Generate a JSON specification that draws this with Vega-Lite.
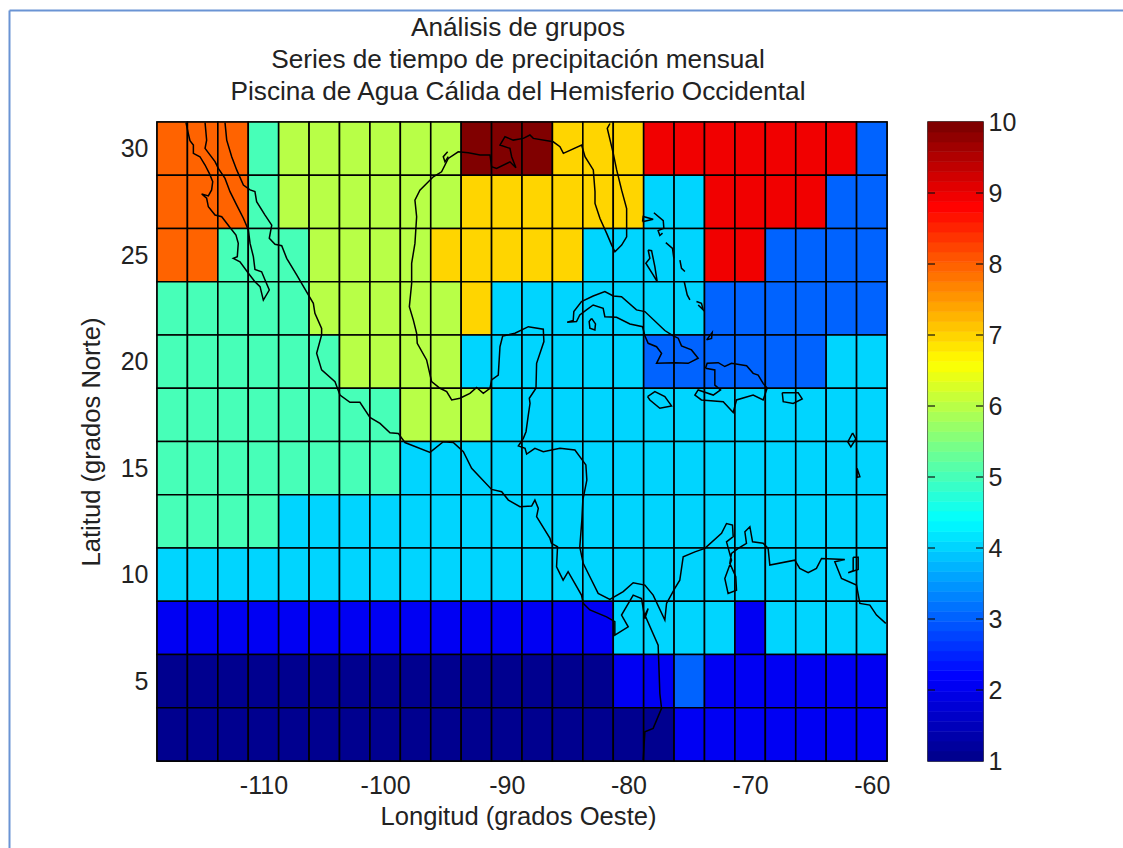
{"$schema":"https://vega.github.io/schema/vega-lite/v6.json","background":"white","padding":{"left":7,"top":8,"right":0,"bottom":0},"bounds":"flush","spacing":41,
"config":{"font":"Liberation Sans","view":{"stroke":"#111","strokeWidth":1.5},"axis":{"labelFont":"Liberation Sans","titleFont":"Liberation Sans","labelColor":"#222","titleColor":"#222","domainColor":"#111","tickColor":"#111","grid":false},"title":{"font":"Liberation Sans","color":"#222"}},
"datasets":{
"celdas":[
{"lon":-117.5,"lat":30,"v":8},{"lon":-115,"lat":30,"v":8},{"lon":-112.5,"lat":30,"v":8},{"lon":-110,"lat":30,"v":5},{"lon":-107.5,"lat":30,"v":6},{"lon":-105,"lat":30,"v":6},{"lon":-102.5,"lat":30,"v":6},{"lon":-100,"lat":30,"v":6},{"lon":-97.5,"lat":30,"v":6},{"lon":-95,"lat":30,"v":6},{"lon":-92.5,"lat":30,"v":10},{"lon":-90,"lat":30,"v":10},{"lon":-87.5,"lat":30,"v":10},{"lon":-85,"lat":30,"v":7},{"lon":-82.5,"lat":30,"v":7},{"lon":-80,"lat":30,"v":7},{"lon":-77.5,"lat":30,"v":9},{"lon":-75,"lat":30,"v":9},{"lon":-72.5,"lat":30,"v":9},{"lon":-70,"lat":30,"v":9},{"lon":-67.5,"lat":30,"v":9},{"lon":-65,"lat":30,"v":9},{"lon":-62.5,"lat":30,"v":9},{"lon":-60,"lat":30,"v":3},
{"lon":-117.5,"lat":27.5,"v":8},{"lon":-115,"lat":27.5,"v":8},{"lon":-112.5,"lat":27.5,"v":8},{"lon":-110,"lat":27.5,"v":5},{"lon":-107.5,"lat":27.5,"v":6},{"lon":-105,"lat":27.5,"v":6},{"lon":-102.5,"lat":27.5,"v":6},{"lon":-100,"lat":27.5,"v":6},{"lon":-97.5,"lat":27.5,"v":6},{"lon":-95,"lat":27.5,"v":6},{"lon":-92.5,"lat":27.5,"v":7},{"lon":-90,"lat":27.5,"v":7},{"lon":-87.5,"lat":27.5,"v":7},{"lon":-85,"lat":27.5,"v":7},{"lon":-82.5,"lat":27.5,"v":7},{"lon":-80,"lat":27.5,"v":7},{"lon":-77.5,"lat":27.5,"v":4},{"lon":-75,"lat":27.5,"v":4},{"lon":-72.5,"lat":27.5,"v":9},{"lon":-70,"lat":27.5,"v":9},{"lon":-67.5,"lat":27.5,"v":9},{"lon":-65,"lat":27.5,"v":9},{"lon":-62.5,"lat":27.5,"v":3},{"lon":-60,"lat":27.5,"v":3},
{"lon":-117.5,"lat":25,"v":8},{"lon":-115,"lat":25,"v":8},{"lon":-112.5,"lat":25,"v":5},{"lon":-110,"lat":25,"v":5},{"lon":-107.5,"lat":25,"v":5},{"lon":-105,"lat":25,"v":6},{"lon":-102.5,"lat":25,"v":6},{"lon":-100,"lat":25,"v":6},{"lon":-97.5,"lat":25,"v":6},{"lon":-95,"lat":25,"v":7},{"lon":-92.5,"lat":25,"v":7},{"lon":-90,"lat":25,"v":7},{"lon":-87.5,"lat":25,"v":7},{"lon":-85,"lat":25,"v":7},{"lon":-82.5,"lat":25,"v":4},{"lon":-80,"lat":25,"v":4},{"lon":-77.5,"lat":25,"v":4},{"lon":-75,"lat":25,"v":4},{"lon":-72.5,"lat":25,"v":9},{"lon":-70,"lat":25,"v":9},{"lon":-67.5,"lat":25,"v":3},{"lon":-65,"lat":25,"v":3},{"lon":-62.5,"lat":25,"v":3},{"lon":-60,"lat":25,"v":3},
{"lon":-117.5,"lat":22.5,"v":5},{"lon":-115,"lat":22.5,"v":5},{"lon":-112.5,"lat":22.5,"v":5},{"lon":-110,"lat":22.5,"v":5},{"lon":-107.5,"lat":22.5,"v":5},{"lon":-105,"lat":22.5,"v":6},{"lon":-102.5,"lat":22.5,"v":6},{"lon":-100,"lat":22.5,"v":6},{"lon":-97.5,"lat":22.5,"v":6},{"lon":-95,"lat":22.5,"v":6},{"lon":-92.5,"lat":22.5,"v":7},{"lon":-90,"lat":22.5,"v":4},{"lon":-87.5,"lat":22.5,"v":4},{"lon":-85,"lat":22.5,"v":4},{"lon":-82.5,"lat":22.5,"v":4},{"lon":-80,"lat":22.5,"v":4},{"lon":-77.5,"lat":22.5,"v":4},{"lon":-75,"lat":22.5,"v":4},{"lon":-72.5,"lat":22.5,"v":3},{"lon":-70,"lat":22.5,"v":3},{"lon":-67.5,"lat":22.5,"v":3},{"lon":-65,"lat":22.5,"v":3},{"lon":-62.5,"lat":22.5,"v":3},{"lon":-60,"lat":22.5,"v":3},
{"lon":-117.5,"lat":20,"v":5},{"lon":-115,"lat":20,"v":5},{"lon":-112.5,"lat":20,"v":5},{"lon":-110,"lat":20,"v":5},{"lon":-107.5,"lat":20,"v":5},{"lon":-105,"lat":20,"v":5},{"lon":-102.5,"lat":20,"v":6},{"lon":-100,"lat":20,"v":6},{"lon":-97.5,"lat":20,"v":6},{"lon":-95,"lat":20,"v":6},{"lon":-92.5,"lat":20,"v":4},{"lon":-90,"lat":20,"v":4},{"lon":-87.5,"lat":20,"v":4},{"lon":-85,"lat":20,"v":4},{"lon":-82.5,"lat":20,"v":4},{"lon":-80,"lat":20,"v":4},{"lon":-77.5,"lat":20,"v":3},{"lon":-75,"lat":20,"v":3},{"lon":-72.5,"lat":20,"v":3},{"lon":-70,"lat":20,"v":3},{"lon":-67.5,"lat":20,"v":3},{"lon":-65,"lat":20,"v":3},{"lon":-62.5,"lat":20,"v":4},{"lon":-60,"lat":20,"v":4},
{"lon":-117.5,"lat":17.5,"v":5},{"lon":-115,"lat":17.5,"v":5},{"lon":-112.5,"lat":17.5,"v":5},{"lon":-110,"lat":17.5,"v":5},{"lon":-107.5,"lat":17.5,"v":5},{"lon":-105,"lat":17.5,"v":5},{"lon":-102.5,"lat":17.5,"v":5},{"lon":-100,"lat":17.5,"v":5},{"lon":-97.5,"lat":17.5,"v":6},{"lon":-95,"lat":17.5,"v":6},{"lon":-92.5,"lat":17.5,"v":6},{"lon":-90,"lat":17.5,"v":4},{"lon":-87.5,"lat":17.5,"v":4},{"lon":-85,"lat":17.5,"v":4},{"lon":-82.5,"lat":17.5,"v":4},{"lon":-80,"lat":17.5,"v":4},{"lon":-77.5,"lat":17.5,"v":4},{"lon":-75,"lat":17.5,"v":4},{"lon":-72.5,"lat":17.5,"v":4},{"lon":-70,"lat":17.5,"v":4},{"lon":-67.5,"lat":17.5,"v":4},{"lon":-65,"lat":17.5,"v":4},{"lon":-62.5,"lat":17.5,"v":4},{"lon":-60,"lat":17.5,"v":4},
{"lon":-117.5,"lat":15,"v":5},{"lon":-115,"lat":15,"v":5},{"lon":-112.5,"lat":15,"v":5},{"lon":-110,"lat":15,"v":5},{"lon":-107.5,"lat":15,"v":5},{"lon":-105,"lat":15,"v":5},{"lon":-102.5,"lat":15,"v":5},{"lon":-100,"lat":15,"v":5},{"lon":-97.5,"lat":15,"v":4},{"lon":-95,"lat":15,"v":4},{"lon":-92.5,"lat":15,"v":4},{"lon":-90,"lat":15,"v":4},{"lon":-87.5,"lat":15,"v":4},{"lon":-85,"lat":15,"v":4},{"lon":-82.5,"lat":15,"v":4},{"lon":-80,"lat":15,"v":4},{"lon":-77.5,"lat":15,"v":4},{"lon":-75,"lat":15,"v":4},{"lon":-72.5,"lat":15,"v":4},{"lon":-70,"lat":15,"v":4},{"lon":-67.5,"lat":15,"v":4},{"lon":-65,"lat":15,"v":4},{"lon":-62.5,"lat":15,"v":4},{"lon":-60,"lat":15,"v":4},
{"lon":-117.5,"lat":12.5,"v":5},{"lon":-115,"lat":12.5,"v":5},{"lon":-112.5,"lat":12.5,"v":5},{"lon":-110,"lat":12.5,"v":5},{"lon":-107.5,"lat":12.5,"v":4},{"lon":-105,"lat":12.5,"v":4},{"lon":-102.5,"lat":12.5,"v":4},{"lon":-100,"lat":12.5,"v":4},{"lon":-97.5,"lat":12.5,"v":4},{"lon":-95,"lat":12.5,"v":4},{"lon":-92.5,"lat":12.5,"v":4},{"lon":-90,"lat":12.5,"v":4},{"lon":-87.5,"lat":12.5,"v":4},{"lon":-85,"lat":12.5,"v":4},{"lon":-82.5,"lat":12.5,"v":4},{"lon":-80,"lat":12.5,"v":4},{"lon":-77.5,"lat":12.5,"v":4},{"lon":-75,"lat":12.5,"v":4},{"lon":-72.5,"lat":12.5,"v":4},{"lon":-70,"lat":12.5,"v":4},{"lon":-67.5,"lat":12.5,"v":4},{"lon":-65,"lat":12.5,"v":4},{"lon":-62.5,"lat":12.5,"v":4},{"lon":-60,"lat":12.5,"v":4},
{"lon":-117.5,"lat":10,"v":4},{"lon":-115,"lat":10,"v":4},{"lon":-112.5,"lat":10,"v":4},{"lon":-110,"lat":10,"v":4},{"lon":-107.5,"lat":10,"v":4},{"lon":-105,"lat":10,"v":4},{"lon":-102.5,"lat":10,"v":4},{"lon":-100,"lat":10,"v":4},{"lon":-97.5,"lat":10,"v":4},{"lon":-95,"lat":10,"v":4},{"lon":-92.5,"lat":10,"v":4},{"lon":-90,"lat":10,"v":4},{"lon":-87.5,"lat":10,"v":4},{"lon":-85,"lat":10,"v":4},{"lon":-82.5,"lat":10,"v":4},{"lon":-80,"lat":10,"v":4},{"lon":-77.5,"lat":10,"v":4},{"lon":-75,"lat":10,"v":4},{"lon":-72.5,"lat":10,"v":4},{"lon":-70,"lat":10,"v":4},{"lon":-67.5,"lat":10,"v":4},{"lon":-65,"lat":10,"v":4},{"lon":-62.5,"lat":10,"v":4},{"lon":-60,"lat":10,"v":4},
{"lon":-117.5,"lat":7.5,"v":2},{"lon":-115,"lat":7.5,"v":2},{"lon":-112.5,"lat":7.5,"v":2},{"lon":-110,"lat":7.5,"v":2},{"lon":-107.5,"lat":7.5,"v":2},{"lon":-105,"lat":7.5,"v":2},{"lon":-102.5,"lat":7.5,"v":2},{"lon":-100,"lat":7.5,"v":2},{"lon":-97.5,"lat":7.5,"v":2},{"lon":-95,"lat":7.5,"v":2},{"lon":-92.5,"lat":7.5,"v":2},{"lon":-90,"lat":7.5,"v":2},{"lon":-87.5,"lat":7.5,"v":2},{"lon":-85,"lat":7.5,"v":2},{"lon":-82.5,"lat":7.5,"v":2},{"lon":-80,"lat":7.5,"v":4},{"lon":-77.5,"lat":7.5,"v":4},{"lon":-75,"lat":7.5,"v":4},{"lon":-72.5,"lat":7.5,"v":4},{"lon":-70,"lat":7.5,"v":2},{"lon":-67.5,"lat":7.5,"v":4},{"lon":-65,"lat":7.5,"v":4},{"lon":-62.5,"lat":7.5,"v":4},{"lon":-60,"lat":7.5,"v":4},
{"lon":-117.5,"lat":5,"v":1},{"lon":-115,"lat":5,"v":1},{"lon":-112.5,"lat":5,"v":1},{"lon":-110,"lat":5,"v":1},{"lon":-107.5,"lat":5,"v":1},{"lon":-105,"lat":5,"v":1},{"lon":-102.5,"lat":5,"v":1},{"lon":-100,"lat":5,"v":1},{"lon":-97.5,"lat":5,"v":1},{"lon":-95,"lat":5,"v":1},{"lon":-92.5,"lat":5,"v":1},{"lon":-90,"lat":5,"v":1},{"lon":-87.5,"lat":5,"v":1},{"lon":-85,"lat":5,"v":1},{"lon":-82.5,"lat":5,"v":1},{"lon":-80,"lat":5,"v":2},{"lon":-77.5,"lat":5,"v":2},{"lon":-75,"lat":5,"v":3},{"lon":-72.5,"lat":5,"v":2},{"lon":-70,"lat":5,"v":2},{"lon":-67.5,"lat":5,"v":2},{"lon":-65,"lat":5,"v":2},{"lon":-62.5,"lat":5,"v":2},{"lon":-60,"lat":5,"v":2},
{"lon":-117.5,"lat":2.5,"v":1},{"lon":-115,"lat":2.5,"v":1},{"lon":-112.5,"lat":2.5,"v":1},{"lon":-110,"lat":2.5,"v":1},{"lon":-107.5,"lat":2.5,"v":1},{"lon":-105,"lat":2.5,"v":1},{"lon":-102.5,"lat":2.5,"v":1},{"lon":-100,"lat":2.5,"v":1},{"lon":-97.5,"lat":2.5,"v":1},{"lon":-95,"lat":2.5,"v":1},{"lon":-92.5,"lat":2.5,"v":1},{"lon":-90,"lat":2.5,"v":1},{"lon":-87.5,"lat":2.5,"v":1},{"lon":-85,"lat":2.5,"v":1},{"lon":-82.5,"lat":2.5,"v":1},{"lon":-80,"lat":2.5,"v":1},{"lon":-77.5,"lat":2.5,"v":1},{"lon":-75,"lat":2.5,"v":2},{"lon":-72.5,"lat":2.5,"v":2},{"lon":-70,"lat":2.5,"v":2},{"lon":-67.5,"lat":2.5,"v":2},{"lon":-65,"lat":2.5,"v":2},{"lon":-62.5,"lat":2.5,"v":2},{"lon":-60,"lat":2.5,"v":2}
],
"costa":[
{"p":1,"o":1,"lon":-116.37,"lat":31.22},{"p":1,"o":2,"lon":-116.18,"lat":30.72},{"p":1,"o":3,"lon":-116.04,"lat":30.37},{"p":1,"o":4,"lon":-115.76,"lat":30.17},{"p":1,"o":5,"lon":-115.76,"lat":29.78},{"p":1,"o":6,"lon":-115.22,"lat":29.62},{"p":1,"o":7,"lon":-114.8,"lat":29.23},{"p":1,"o":8,"lon":-114.45,"lat":28.84},{"p":1,"o":9,"lon":-114.17,"lat":28.45},{"p":1,"o":10,"lon":-114.26,"lat":28.06},{"p":1,"o":11,"lon":-114.53,"lat":27.78},{"p":1,"o":12,"lon":-115.08,"lat":27.87},{"p":1,"o":13,"lon":-114.67,"lat":27.67},{"p":1,"o":14,"lon":-114.53,"lat":27.27},{"p":1,"o":15,"lon":-113.98,"lat":26.88},{"p":1,"o":16,"lon":-113.43,"lat":26.8},{"p":1,"o":17,"lon":-112.75,"lat":26.3},{"p":1,"o":18,"lon":-112.26,"lat":25.94},{"p":1,"o":19,"lon":-112.07,"lat":25.55},{"p":1,"o":20,"lon":-112.15,"lat":24.93},{"p":1,"o":21,"lon":-112.48,"lat":24.85},{"p":1,"o":22,"lon":-111.93,"lat":24.69},{"p":1,"o":23,"lon":-111.24,"lat":24.15},{"p":1,"o":24,"lon":-110.7,"lat":23.75},{"p":1,"o":25,"lon":-110.28,"lat":23.52},{"p":1,"o":26,"lon":-110.01,"lat":22.89},{"p":1,"o":27,"lon":-109.52,"lat":23.36},{"p":1,"o":28,"lon":-109.87,"lat":23.83},{"p":1,"o":29,"lon":-110.15,"lat":24.22},{"p":1,"o":30,"lon":-110.7,"lat":24.33},{"p":1,"o":31,"lon":-110.83,"lat":24.93},{"p":1,"o":32,"lon":-111.1,"lat":25.55},{"p":1,"o":33,"lon":-111.24,"lat":26.18},{"p":1,"o":34,"lon":-111.65,"lat":26.73},{"p":1,"o":35,"lon":-112.2,"lat":27.35},{"p":1,"o":36,"lon":-112.75,"lat":27.98},{"p":1,"o":37,"lon":-113.16,"lat":28.6},{"p":1,"o":38,"lon":-113.71,"lat":29.07},{"p":1,"o":39,"lon":-113.98,"lat":29.39},{"p":1,"o":40,"lon":-114.8,"lat":30.01},{"p":1,"o":41,"lon":-114.67,"lat":30.4},{"p":1,"o":42,"lon":-114.8,"lat":31.22},
{"p":2,"o":1,"lon":-113.16,"lat":31.22},{"p":2,"o":2,"lon":-113.02,"lat":30.4},{"p":2,"o":3,"lon":-112.61,"lat":29.62},{"p":2,"o":4,"lon":-112.2,"lat":29},{"p":2,"o":5,"lon":-111.65,"lat":28.29},{"p":2,"o":6,"lon":-111.1,"lat":28.06},{"p":2,"o":7,"lon":-110.7,"lat":27.98},{"p":2,"o":8,"lon":-110.56,"lat":27.51},{"p":2,"o":9,"lon":-109.87,"lat":26.88},{"p":2,"o":10,"lon":-109.32,"lat":26.41},{"p":2,"o":11,"lon":-109.52,"lat":25.79},{"p":2,"o":12,"lon":-109.05,"lat":25.51},{"p":2,"o":13,"lon":-108.5,"lat":25.44},{"p":2,"o":14,"lon":-108.09,"lat":24.85},{"p":2,"o":15,"lon":-107.27,"lat":24.07},{"p":2,"o":16,"lon":-106.31,"lat":23.13},{"p":2,"o":17,"lon":-105.9,"lat":22.74},{"p":2,"o":18,"lon":-105.77,"lat":22.27},{"p":2,"o":19,"lon":-105.22,"lat":21.56},{"p":2,"o":20,"lon":-105.22,"lat":21.25},{"p":2,"o":21,"lon":-105.63,"lat":20.39},{"p":2,"o":22,"lon":-105.22,"lat":19.61},{"p":2,"o":23,"lon":-104.12,"lat":19.06},{"p":2,"o":24,"lon":-103.71,"lat":18.43},{"p":2,"o":25,"lon":-102.89,"lat":18.09},{"p":2,"o":26,"lon":-102.07,"lat":18.09},{"p":2,"o":27,"lon":-101.25,"lat":17.38},{"p":2,"o":28,"lon":-100.42,"lat":17.1},{"p":2,"o":29,"lon":-99.6,"lat":16.66},{"p":2,"o":30,"lon":-98.92,"lat":16.63},{"p":2,"o":31,"lon":-98.37,"lat":16.2},{"p":2,"o":32,"lon":-96.31,"lat":15.74},{"p":2,"o":33,"lon":-95.22,"lat":16.24},{"p":2,"o":34,"lon":-94.4,"lat":16.2},{"p":2,"o":35,"lon":-93.57,"lat":15.77},{"p":2,"o":36,"lon":-92.89,"lat":14.99},{"p":2,"o":37,"lon":-91.25,"lat":14},{"p":2,"o":38,"lon":-90.42,"lat":13.89},{"p":2,"o":39,"lon":-89.87,"lat":13.5},{"p":2,"o":40,"lon":-88.92,"lat":13.19},{"p":2,"o":41,"lon":-87.96,"lat":13.22},{"p":2,"o":42,"lon":-87.69,"lat":13.5},{"p":2,"o":43,"lon":-87.41,"lat":13.11},{"p":2,"o":44,"lon":-87.55,"lat":12.72},{"p":2,"o":45,"lon":-86.45,"lat":11.7},{"p":2,"o":46,"lon":-86.33,"lat":11.47},{"p":2,"o":47,"lon":-85.83,"lat":11.31},{"p":2,"o":48,"lon":-85.91,"lat":10.37},{"p":2,"o":49,"lon":-85.37,"lat":9.74},{"p":2,"o":50,"lon":-84.96,"lat":10.14},{"p":2,"o":51,"lon":-83.86,"lat":9.04},{"p":2,"o":52,"lon":-83.72,"lat":8.65},{"p":2,"o":53,"lon":-83.17,"lat":8.34},{"p":2,"o":54,"lon":-81.8,"lat":8.02},{"p":2,"o":55,"lon":-81.12,"lat":7.79},{"p":2,"o":56,"lon":-81.12,"lat":7.16},{"p":2,"o":57,"lon":-80.02,"lat":7.55},{"p":2,"o":58,"lon":-80.57,"lat":8.1},{"p":2,"o":59,"lon":-79.61,"lat":9.04},{"p":2,"o":60,"lon":-78.93,"lat":8.88},{"p":2,"o":61,"lon":-78.65,"lat":7.94},{"p":2,"o":62,"lon":-78.38,"lat":8.41},{"p":2,"o":63,"lon":-78.65,"lat":8.1},{"p":2,"o":64,"lon":-77.56,"lat":6.69},{"p":2,"o":65,"lon":-77.42,"lat":4.42},{"p":2,"o":66,"lon":-77.28,"lat":3.72},{"p":2,"o":67,"lon":-77.97,"lat":2.78},{"p":2,"o":68,"lon":-78.65,"lat":2.62},{"p":2,"o":69,"lon":-78.79,"lat":1.29},
{"p":3,"o":1,"lon":-81.52,"lat":31.18},{"p":3,"o":2,"lon":-81.74,"lat":30.95},{"p":3,"o":3,"lon":-81.25,"lat":29.78},{"p":3,"o":4,"lon":-80.97,"lat":29},{"p":3,"o":5,"lon":-80.56,"lat":28.05},{"p":3,"o":6,"lon":-80.15,"lat":27.19},{"p":3,"o":7,"lon":-80.15,"lat":25.86},{"p":3,"o":8,"lon":-80.56,"lat":25.47},{"p":3,"o":9,"lon":-81.11,"lat":25.16},{"p":3,"o":10,"lon":-81.38,"lat":25.47},{"p":3,"o":11,"lon":-81.79,"lat":26.02},{"p":3,"o":12,"lon":-82.34,"lat":26.72},{"p":3,"o":13,"lon":-82.75,"lat":27.43},{"p":3,"o":14,"lon":-82.75,"lat":27.98},{"p":3,"o":15,"lon":-82.89,"lat":29},{"p":3,"o":16,"lon":-83.57,"lat":29.62},{"p":3,"o":17,"lon":-83.85,"lat":30.17},{"p":3,"o":18,"lon":-85.35,"lat":29.78},{"p":3,"o":19,"lon":-85.63,"lat":30.09},{"p":3,"o":20,"lon":-86.18,"lat":30.32},{"p":3,"o":21,"lon":-87.82,"lat":30.48},{"p":3,"o":22,"lon":-88.1,"lat":30.64},{"p":3,"o":23,"lon":-88.64,"lat":30.48},{"p":3,"o":24,"lon":-89.47,"lat":30.4},{"p":3,"o":25,"lon":-90.15,"lat":30.56},{"p":3,"o":26,"lon":-90.56,"lat":30.17},{"p":3,"o":27,"lon":-89.74,"lat":30.01},{"p":3,"o":28,"lon":-89.6,"lat":29.62},{"p":3,"o":29,"lon":-89.25,"lat":29.1},{"p":3,"o":30,"lon":-89.74,"lat":29.38},{"p":3,"o":31,"lon":-90.84,"lat":29.07},{"p":3,"o":32,"lon":-91.25,"lat":29.15},{"p":3,"o":33,"lon":-91.38,"lat":29.7},{"p":3,"o":34,"lon":-92.2,"lat":29.7},{"p":3,"o":35,"lon":-93.16,"lat":29.81},{"p":3,"o":36,"lon":-93.99,"lat":29.85},{"p":3,"o":37,"lon":-94.81,"lat":29.54},{"p":3,"o":38,"lon":-95.36,"lat":28.91},{"p":3,"o":39,"lon":-96.04,"lat":28.68},{"p":3,"o":40,"lon":-97.14,"lat":28.05},{"p":3,"o":41,"lon":-97.55,"lat":27.58},{"p":3,"o":42,"lon":-97.41,"lat":26.8},{"p":3,"o":43,"lon":-97.55,"lat":25.55},{"p":3,"o":44,"lon":-97.82,"lat":24.61},{"p":3,"o":45,"lon":-97.82,"lat":23.67},{"p":3,"o":46,"lon":-98.01,"lat":22.58},{"p":3,"o":47,"lon":-97.68,"lat":21.95},{"p":3,"o":48,"lon":-97.41,"lat":21.33},{"p":3,"o":49,"lon":-97.36,"lat":20.86},{"p":3,"o":50,"lon":-96.59,"lat":20.08},{"p":3,"o":51,"lon":-96.18,"lat":19.06},{"p":3,"o":52,"lon":-95.49,"lat":18.75},{"p":3,"o":53,"lon":-94.94,"lat":18.59},{"p":3,"o":54,"lon":-94.53,"lat":18.2},{"p":3,"o":55,"lon":-93.85,"lat":18.28},{"p":3,"o":56,"lon":-93.03,"lat":18.51},{"p":3,"o":57,"lon":-92.48,"lat":18.79},{"p":3,"o":58,"lon":-91.93,"lat":18.51},{"p":3,"o":59,"lon":-91.38,"lat":18.75},{"p":3,"o":60,"lon":-91.25,"lat":19.14},{"p":3,"o":61,"lon":-90.7,"lat":19.37},{"p":3,"o":62,"lon":-90.56,"lat":20.7},{"p":3,"o":63,"lon":-90.34,"lat":21.2},{"p":3,"o":64,"lon":-89.33,"lat":21.33},{"p":3,"o":65,"lon":-88.23,"lat":21.64},{"p":3,"o":66,"lon":-87,"lat":21.52},{"p":3,"o":67,"lon":-86.95,"lat":20.94},{"p":3,"o":68,"lon":-87.55,"lat":19.92},{"p":3,"o":69,"lon":-87.6,"lat":18.75},{"p":3,"o":70,"lon":-88.15,"lat":18.28},{"p":3,"o":71,"lon":-88.09,"lat":18.04},{"p":3,"o":72,"lon":-88.23,"lat":17.5},{"p":3,"o":73,"lon":-88.42,"lat":16.71},{"p":3,"o":74,"lon":-88.64,"lat":16.4},{"p":3,"o":75,"lon":-89.05,"lat":16.04},{"p":3,"o":76,"lon":-88.5,"lat":15.93},{"p":3,"o":77,"lon":-88.37,"lat":15.66},{"p":3,"o":78,"lon":-87.69,"lat":15.93},{"p":3,"o":79,"lon":-87,"lat":15.77},{"p":3,"o":80,"lon":-85.63,"lat":15.93},{"p":3,"o":81,"lon":-84.4,"lat":15.85},{"p":3,"o":82,"lon":-83.5,"lat":15.15},{"p":3,"o":83,"lon":-83.42,"lat":14.44},{"p":3,"o":84,"lon":-83.75,"lat":13.5},{"p":3,"o":85,"lon":-83.83,"lat":12.56},{"p":3,"o":86,"lon":-84,"lat":11.3},{"p":3,"o":87,"lon":-83.72,"lat":10.53},{"p":3,"o":88,"lon":-83.17,"lat":9.9},{"p":3,"o":89,"lon":-82.49,"lat":9.12},{"p":3,"o":90,"lon":-81.53,"lat":8.84},{"p":3,"o":91,"lon":-80.43,"lat":9.2},{"p":3,"o":92,"lon":-79.61,"lat":9.62},{"p":3,"o":93,"lon":-78.65,"lat":9.51},{"p":3,"o":94,"lon":-77.97,"lat":9.04},{"p":3,"o":95,"lon":-77.01,"lat":7.87},{"p":3,"o":96,"lon":-76.87,"lat":8.65},{"p":3,"o":97,"lon":-76.19,"lat":9.35},{"p":3,"o":98,"lon":-75.78,"lat":9.74},{"p":3,"o":99,"lon":-75.5,"lat":10.84},{"p":3,"o":100,"lon":-74.54,"lat":11.07},{"p":3,"o":101,"lon":-73.72,"lat":11.23},{"p":3,"o":102,"lon":-72.35,"lat":11.94},{"p":3,"o":103,"lon":-71.94,"lat":12.4},{"p":3,"o":104,"lon":-71.45,"lat":12.33},{"p":3,"o":105,"lon":-71.39,"lat":11.78},{"p":3,"o":106,"lon":-71.94,"lat":11.54},{"p":3,"o":107,"lon":-71.53,"lat":10.68},{"p":3,"o":108,"lon":-72.08,"lat":9.82},{"p":3,"o":109,"lon":-71.81,"lat":9.12},{"p":3,"o":110,"lon":-71.12,"lat":9.27},{"p":3,"o":111,"lon":-71.18,"lat":9.9},{"p":3,"o":112,"lon":-71.67,"lat":10.53},{"p":3,"o":113,"lon":-71.53,"lat":11},{"p":3,"o":114,"lon":-70.98,"lat":11.23},{"p":3,"o":115,"lon":-70.3,"lat":11.47},{"p":3,"o":116,"lon":-70.43,"lat":12.01},{"p":3,"o":117,"lon":-70.02,"lat":12.25},{"p":3,"o":118,"lon":-69.8,"lat":11.54},{"p":3,"o":119,"lon":-68.93,"lat":11.47},{"p":3,"o":120,"lon":-68.52,"lat":11.23},{"p":3,"o":121,"lon":-68.38,"lat":10.45},{"p":3,"o":122,"lon":-66.33,"lat":10.68},{"p":3,"o":123,"lon":-65.92,"lat":10.29},{"p":3,"o":124,"lon":-65.23,"lat":10.09},{"p":3,"o":125,"lon":-64.55,"lat":10.29},{"p":3,"o":126,"lon":-64.13,"lat":10.76},{"p":3,"o":127,"lon":-62.22,"lat":10.71},{"p":3,"o":128,"lon":-63.04,"lat":10.6},{"p":3,"o":129,"lon":-62.49,"lat":9.82},{"p":3,"o":130,"lon":-61.26,"lat":9.51},{"p":3,"o":131,"lon":-60.98,"lat":8.65},{"p":3,"o":132,"lon":-60.16,"lat":8.57},{"p":3,"o":133,"lon":-59.61,"lat":8.1},{"p":3,"o":134,"lon":-58.85,"lat":7.71},
{"p":4,"o":1,"lon":-61.53,"lat":10.81},{"p":4,"o":2,"lon":-61.12,"lat":10.81},{"p":4,"o":3,"lon":-61.12,"lat":10.24},{"p":4,"o":4,"lon":-61.94,"lat":10.09},{"p":4,"o":5,"lon":-61.53,"lat":10.18},{"p":4,"o":6,"lon":-61.53,"lat":10.81},
{"p":5,"o":1,"lon":-85.04,"lat":21.85},{"p":5,"o":2,"lon":-84.54,"lat":21.93},{"p":5,"o":3,"lon":-84.49,"lat":22.35},{"p":5,"o":4,"lon":-83.86,"lat":22.82},{"p":5,"o":5,"lon":-82.9,"lat":23.08},{"p":5,"o":6,"lon":-81.94,"lat":23.29},{"p":5,"o":7,"lon":-81.25,"lat":23.08},{"p":5,"o":8,"lon":-80.57,"lat":23.05},{"p":5,"o":9,"lon":-79.34,"lat":22.43},{"p":5,"o":10,"lon":-78.65,"lat":22.35},{"p":5,"o":11,"lon":-77.01,"lat":21.46},{"p":5,"o":12,"lon":-76.32,"lat":21.21},{"p":5,"o":13,"lon":-75.91,"lat":21.1},{"p":5,"o":14,"lon":-75.64,"lat":20.74},{"p":5,"o":15,"lon":-74.82,"lat":20.55},{"p":5,"o":16,"lon":-74.27,"lat":20.16},{"p":5,"o":17,"lon":-75.09,"lat":19.92},{"p":5,"o":18,"lon":-76.19,"lat":19.95},{"p":5,"o":19,"lon":-77.69,"lat":19.92},{"p":5,"o":20,"lon":-77.28,"lat":20.39},{"p":5,"o":21,"lon":-77.69,"lat":20.7},{"p":5,"o":22,"lon":-78.38,"lat":20.86},{"p":5,"o":23,"lon":-78.65,"lat":21.21},{"p":5,"o":24,"lon":-78.84,"lat":21.64},{"p":5,"o":25,"lon":-79.88,"lat":21.77},{"p":5,"o":26,"lon":-80.98,"lat":22.08},{"p":5,"o":27,"lon":-81.94,"lat":22.11},{"p":5,"o":28,"lon":-82.08,"lat":22.5},{"p":5,"o":29,"lon":-82.9,"lat":22.66},{"p":5,"o":30,"lon":-83.45,"lat":22.43},{"p":5,"o":31,"lon":-84,"lat":22.19},{"p":5,"o":32,"lon":-84.27,"lat":21.88},{"p":5,"o":33,"lon":-85.04,"lat":21.85},
{"p":6,"o":1,"lon":-83.03,"lat":22.03},{"p":6,"o":2,"lon":-82.71,"lat":21.77},{"p":6,"o":3,"lon":-82.76,"lat":21.49},{"p":6,"o":4,"lon":-83.17,"lat":21.57},{"p":6,"o":5,"lon":-83.23,"lat":21.88},{"p":6,"o":6,"lon":-83.03,"lat":22.03},
{"p":7,"o":1,"lon":-73.67,"lat":19.69},{"p":7,"o":2,"lon":-73.53,"lat":19.92},{"p":7,"o":3,"lon":-72.62,"lat":19.95},{"p":7,"o":4,"lon":-72.08,"lat":19.77},{"p":7,"o":5,"lon":-71.53,"lat":19.92},{"p":7,"o":6,"lon":-70.29,"lat":19.81},{"p":7,"o":7,"lon":-69.75,"lat":19.45},{"p":7,"o":8,"lon":-69.34,"lat":19.37},{"p":7,"o":9,"lon":-68.93,"lat":18.98},{"p":7,"o":10,"lon":-68.6,"lat":18.75},{"p":7,"o":11,"lon":-68.93,"lat":18.2},{"p":7,"o":12,"lon":-69.75,"lat":18.43},{"p":7,"o":13,"lon":-71.12,"lat":18.2},{"p":7,"o":14,"lon":-71.39,"lat":17.61},{"p":7,"o":15,"lon":-72.21,"lat":18.12},{"p":7,"o":16,"lon":-74,"lat":18.2},{"p":7,"o":17,"lon":-74.54,"lat":18.43},{"p":7,"o":18,"lon":-74.27,"lat":18.67},{"p":7,"o":19,"lon":-73.03,"lat":18.43},{"p":7,"o":20,"lon":-72.43,"lat":18.67},{"p":7,"o":21,"lon":-72.9,"lat":18.9},{"p":7,"o":22,"lon":-72.9,"lat":19.61},{"p":7,"o":23,"lon":-73.67,"lat":19.69},
{"p":8,"o":1,"lon":-78.43,"lat":18.36},{"p":8,"o":2,"lon":-77.83,"lat":18.59},{"p":8,"o":3,"lon":-77.01,"lat":18.36},{"p":8,"o":4,"lon":-76.46,"lat":17.92},{"p":8,"o":5,"lon":-77.42,"lat":17.81},{"p":8,"o":6,"lon":-78.24,"lat":18.2},{"p":8,"o":7,"lon":-78.43,"lat":18.36},
{"p":9,"o":1,"lon":-67.36,"lat":18.54},{"p":9,"o":2,"lon":-66.05,"lat":18.54},{"p":9,"o":3,"lon":-65.72,"lat":18.25},{"p":9,"o":4,"lon":-66.46,"lat":18.04},{"p":9,"o":5,"lon":-67.28,"lat":18.12},{"p":9,"o":6,"lon":-67.36,"lat":18.54},
{"p":10,"o":1,"lon":-78.84,"lat":26.57},{"p":10,"o":2,"lon":-77.97,"lat":26.68},{"p":10,"o":3,"lon":-78.79,"lat":26.81},{"p":10,"o":4,"lon":-78.84,"lat":26.57},
{"p":11,"o":1,"lon":-77.91,"lat":26.99},{"p":11,"o":2,"lon":-77.14,"lat":26.62},{"p":11,"o":3,"lon":-77.09,"lat":26.26},{"p":11,"o":4,"lon":-77.56,"lat":26.15},{"p":11,"o":5,"lon":-77.42,"lat":25.92},{"p":11,"o":6,"lon":-77.2,"lat":26.03},
{"p":12,"o":1,"lon":-78.38,"lat":25.24},{"p":12,"o":2,"lon":-78.1,"lat":25.21},{"p":12,"o":3,"lon":-77.83,"lat":24.46},{"p":12,"o":4,"lon":-77.64,"lat":23.76},{"p":12,"o":5,"lon":-77.97,"lat":24.07},{"p":12,"o":6,"lon":-78.57,"lat":24.62},{"p":12,"o":7,"lon":-78.24,"lat":24.85},{"p":12,"o":8,"lon":-78.38,"lat":25.24},
{"p":13,"o":1,"lon":-76.93,"lat":25.59},{"p":13,"o":2,"lon":-76.38,"lat":25.32},{"p":13,"o":3,"lon":-76.27,"lat":24.85},
{"p":14,"o":1,"lon":-75.77,"lat":24.77},{"p":14,"o":2,"lon":-75.64,"lat":24.38},{"p":14,"o":3,"lon":-75.36,"lat":24.23},
{"p":15,"o":1,"lon":-75.42,"lat":23.76},{"p":15,"o":2,"lon":-75.17,"lat":23.13},{"p":15,"o":3,"lon":-74.95,"lat":22.9},
{"p":16,"o":1,"lon":-74.41,"lat":22.82},{"p":16,"o":2,"lon":-74,"lat":22.74},{"p":16,"o":3,"lon":-73.86,"lat":22.43},{"p":16,"o":4,"lon":-74.27,"lat":22.66},
{"p":17,"o":1,"lon":-73.58,"lat":21.02},{"p":17,"o":2,"lon":-73.12,"lat":21.36},{"p":17,"o":3,"lon":-73.17,"lat":21.09},{"p":17,"o":4,"lon":-73.58,"lat":21.02},
{"p":18,"o":1,"lon":-61.58,"lat":16.65},{"p":18,"o":2,"lon":-61.97,"lat":16.23},{"p":18,"o":3,"lon":-61.72,"lat":16},{"p":18,"o":4,"lon":-61.31,"lat":16.37},{"p":18,"o":5,"lon":-61.58,"lat":16.65},
{"p":19,"o":1,"lon":-61.21,"lat":14.99},{"p":19,"o":2,"lon":-60.98,"lat":14.6},{"p":19,"o":3,"lon":-61.21,"lat":14.57},{"p":19,"o":4,"lon":-61.21,"lat":14.99},
{"p":20,"o":1,"lon":-94.86,"lat":29.85},{"p":20,"o":2,"lon":-95.22,"lat":29.62},{"p":20,"o":3,"lon":-95.08,"lat":29.38},{"p":20,"o":4,"lon":-94.81,"lat":29.62}
],
"barra":[
{"lo":1,"hi":1.14,"c":1},{"lo":1.14,"hi":1.28,"c":1.143},{"lo":1.28,"hi":1.42,"c":1.286},{"lo":1.42,"hi":1.56,"c":1.429},{"lo":1.56,"hi":1.7,"c":1.571},{"lo":1.7,"hi":1.84,"c":1.714},{"lo":1.84,"hi":1.98,"c":1.857},{"lo":1.98,"hi":2.13,"c":2},{"lo":2.13,"hi":2.27,"c":2.143},{"lo":2.27,"hi":2.41,"c":2.286},{"lo":2.41,"hi":2.55,"c":2.429},{"lo":2.55,"hi":2.69,"c":2.571},{"lo":2.69,"hi":2.83,"c":2.714},{"lo":2.83,"hi":2.97,"c":2.857},{"lo":2.97,"hi":3.11,"c":3},{"lo":3.11,"hi":3.25,"c":3.143},{"lo":3.25,"hi":3.39,"c":3.286},{"lo":3.39,"hi":3.53,"c":3.429},{"lo":3.53,"hi":3.67,"c":3.571},{"lo":3.67,"hi":3.81,"c":3.714},{"lo":3.81,"hi":3.95,"c":3.857},{"lo":3.95,"hi":4.09,"c":4},{"lo":4.09,"hi":4.23,"c":4.143},{"lo":4.23,"hi":4.38,"c":4.286},{"lo":4.38,"hi":4.52,"c":4.429},{"lo":4.52,"hi":4.66,"c":4.571},{"lo":4.66,"hi":4.8,"c":4.714},{"lo":4.8,"hi":4.94,"c":4.857},{"lo":4.94,"hi":5.08,"c":5},{"lo":5.08,"hi":5.22,"c":5.143},{"lo":5.22,"hi":5.36,"c":5.286},{"lo":5.36,"hi":5.5,"c":5.429},{"lo":5.5,"hi":5.64,"c":5.571},{"lo":5.64,"hi":5.78,"c":5.714},{"lo":5.78,"hi":5.92,"c":5.857},{"lo":5.92,"hi":6.06,"c":6},{"lo":6.06,"hi":6.2,"c":6.143},{"lo":6.2,"hi":6.34,"c":6.286},{"lo":6.34,"hi":6.48,"c":6.429},{"lo":6.48,"hi":6.63,"c":6.571},{"lo":6.63,"hi":6.77,"c":6.714},{"lo":6.77,"hi":6.91,"c":6.857},{"lo":6.91,"hi":7.05,"c":7},{"lo":7.05,"hi":7.19,"c":7.143},{"lo":7.19,"hi":7.33,"c":7.286},{"lo":7.33,"hi":7.47,"c":7.429},{"lo":7.47,"hi":7.61,"c":7.571},{"lo":7.61,"hi":7.75,"c":7.714},{"lo":7.75,"hi":7.89,"c":7.857},{"lo":7.89,"hi":8.03,"c":8},{"lo":8.03,"hi":8.17,"c":8.143},{"lo":8.17,"hi":8.31,"c":8.286},{"lo":8.31,"hi":8.45,"c":8.429},{"lo":8.45,"hi":8.59,"c":8.571},{"lo":8.59,"hi":8.73,"c":8.714},{"lo":8.73,"hi":8.88,"c":8.857},{"lo":8.88,"hi":9.02,"c":9},{"lo":9.02,"hi":9.16,"c":9.143},{"lo":9.16,"hi":9.3,"c":9.286},{"lo":9.3,"hi":9.44,"c":9.429},{"lo":9.44,"hi":9.58,"c":9.571},{"lo":9.58,"hi":9.72,"c":9.714},{"lo":9.72,"hi":9.86,"c":9.857},{"lo":9.86,"hi":10,"c":10}
],
"marcas":[{"t":2,"a":0,"b":7},{"t":3,"a":0,"b":7},{"t":4,"a":0,"b":7},{"t":5,"a":0,"b":7},{"t":6,"a":0,"b":7},{"t":7,"a":0,"b":7},{"t":8,"a":0,"b":7},{"t":9,"a":0,"b":7},{"t":2,"a":48,"b":55},{"t":3,"a":48,"b":55},{"t":4,"a":48,"b":55},{"t":5,"a":48,"b":55},{"t":6,"a":48,"b":55},{"t":7,"a":48,"b":55},{"t":8,"a":48,"b":55},{"t":9,"a":48,"b":55}],
"marco":[{"a":-918.5,"b":-918.5,"t":11.57,"u":-0.27},{"a":-918.5,"b":195,"t":11.57,"u":11.57}]
},
"hconcat":[
{"width":730,"height":639,
"title":{"text":["Análisis de grupos","Series de tiempo de precipitación mensual","Piscina de Agua Cálida del Hemisferio Occidental"],"fontSize":26.2,"fontWeight":"normal","lineHeight":32,"anchor":"middle","dx":-4,"offset":14},
"layer":[
{"data":{"name":"celdas"},"mark":{"type":"rect","width":30.42,"height":53.25,"stroke":"#000","strokeWidth":1.6},
"encoding":{"x":{"field":"lon","type":"quantitative","scale":{"domain":[-118.75,-58.75],"nice":false,"zero":false},"axis":{"title":"Longitud (grados Oeste)","values":[-110,-100,-90,-80,-70,-60],"labelExpr":"'-' + abs(datum.value)","tickSize":0,"labelFontSize":25,"titleFontSize":25.6,"titleFontWeight":"normal","labelPadding":12,"titlePadding":6,"titleX":361}},
"y":{"field":"lat","type":"quantitative","scale":{"domain":[1.25,31.25],"nice":false,"zero":false},"axis":{"title":"Latitud (grados Norte)","values":[5,10,15,20,25,30],"tickSize":0,"labelFontSize":25,"titleFontSize":25.6,"titleFontWeight":"normal","labelPadding":9,"titlePadding":16}},
"color":{"field":"v","type":"quantitative","legend":null,"scale":{"domain":[1,2.125,4.375,6.625,8.875,10],"range":["#00008f","#0000ff","#00ffff","#ffff00","#ff0000","#800000"],"interpolate":"rgb"}}}},
{"data":{"name":"costa"},"mark":{"type":"line","stroke":"#000","strokeWidth":1.5,"interpolate":"linear"},
"encoding":{"x":{"field":"lon","type":"quantitative"},"y":{"field":"lat","type":"quantitative"},"detail":{"field":"p","type":"nominal"},"order":{"field":"o","type":"quantitative"}}}
]},
{"width":55,"height":639,
"layer":[
{"data":{"name":"barra"},"mark":{"type":"rect","strokeWidth":0.6},
"encoding":{"y":{"field":"lo","type":"quantitative","scale":{"domain":[1,10],"nice":false,"zero":false},"axis":{"title":null,"orient":"right","values":[1,2,3,4,5,6,7,8,9,10],"format":"d","labelFontSize":25,"labelPadding":5,"domain":false,"tickSize":0}},"y2":{"field":"hi"},"color":{"field":"c","type":"quantitative","legend":null},"stroke":{"field":"c","type":"quantitative","legend":null,"scale":{"domain":[1,2.125,4.375,6.625,8.875,10],"range":["#00008f","#0000ff","#00ffff","#ffff00","#ff0000","#800000"],"interpolate":"rgb"}}}},
{"data":{"name":"marcas"},"mark":{"type":"rule","stroke":"#111","strokeWidth":1.2},
"encoding":{"y":{"field":"t","type":"quantitative"},"x":{"field":"a","type":"quantitative","axis":null,"scale":{"domain":[0,55],"nice":false,"zero":false}},"x2":{"field":"b"}}},
{"data":{"name":"marco"},"mark":{"type":"rule","stroke":"#6a94d4","strokeWidth":2},
"encoding":{"x":{"field":"a","type":"quantitative","axis":null},"x2":{"field":"b"},"y":{"field":"t","type":"quantitative"},"y2":{"field":"u"}}}
]}
]}
